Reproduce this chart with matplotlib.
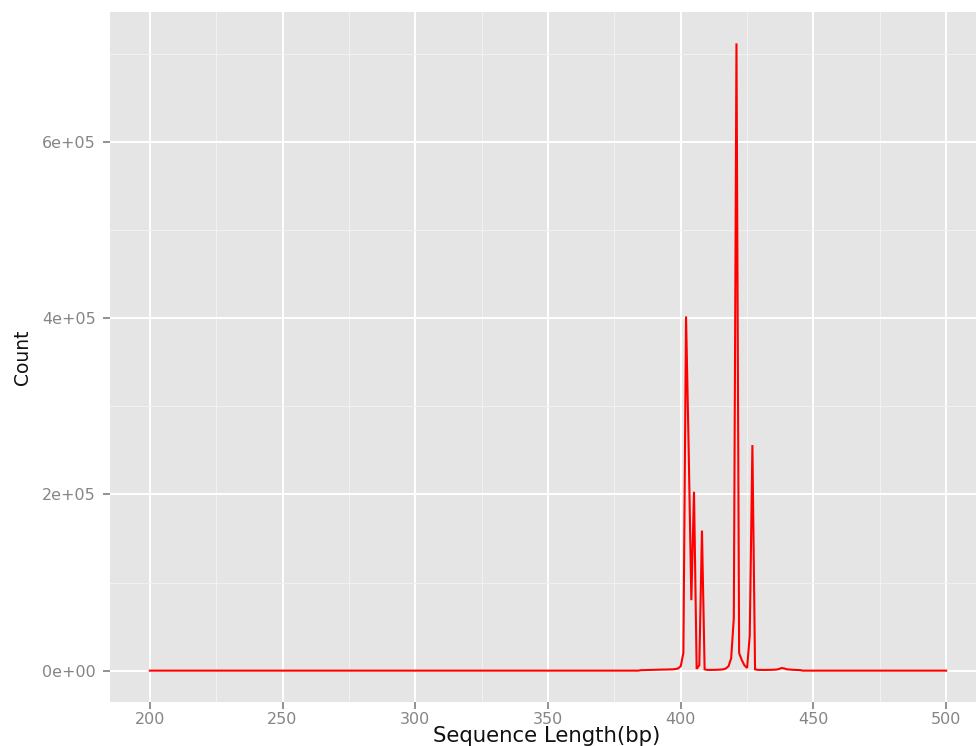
import matplotlib
matplotlib.use("Agg")
import matplotlib.pyplot as plt
from matplotlib.ticker import MultipleLocator, FixedLocator
import numpy as np

# ---- data ----
lengths = list(range(200, 501))
# non-zero counts (all other lengths ~0)
nonzero_lengths = [385, 386, 387, 388, 389, 390, 391, 392, 393, 394, 395, 396, 397, 398, 399,
                   400, 401, 402, 403, 404, 405, 406, 407, 408, 409,
                   410, 411, 412, 413, 414, 415, 416, 417, 418, 419,
                   420, 421, 422, 423, 424, 425, 426, 427, 428,
                   429, 430, 431, 432, 433, 434, 435, 436, 437, 438, 439, 440, 441, 442, 443, 444, 445]
nonzero_counts = [500, 600, 700, 800, 900, 1000, 1000, 1100, 1200, 1200, 1300, 1400, 1500, 1800, 2500,
                  5000, 20000, 402000, 250000, 80000, 203000, 2000, 6000, 159000, 1500,
                  800, 800, 800, 900, 1000, 1200, 1500, 2500, 5000, 14000,
                  60000, 712000, 20000, 12000, 6000, 3000, 40000, 256000, 1500,
                  900, 800, 800, 800, 800, 900, 1000, 1200, 1800, 3000, 2500, 1500, 1200, 1000, 800, 700, 600]

count_map = dict(zip(nonzero_lengths, nonzero_counts))
counts = [count_map.get(l, 0) for l in lengths]

x_ticks = [200, 250, 300, 350, 400, 450, 500]
y_ticks = [0, 200000, 400000, 600000]
y_tick_labels = ["0e+00", "2e+05", "4e+05", "6e+05"]
x_label = "Sequence Length(bp)"
y_label = "Count"

# ---- figure ----
W, H = 976, 746
fig = plt.figure(figsize=(W / 100, H / 100), dpi=100)
fig.patch.set_facecolor("white")

left_px, right_px, top_px, bottom_px = 110, 986, 12, 702
ax = fig.add_axes([left_px / W, (H - bottom_px) / H,
                   (right_px - left_px) / W, (bottom_px - top_px) / H])
ax.set_facecolor("#E5E5E5")

ax.plot(lengths, counts, color="#FF0000", lw=1.5, solid_joinstyle="miter", zorder=3)

xmin, xmax = 200, 500
ymax = max(counts)
xr = (xmax - xmin) * 0.05
yr = ymax * 0.05
ax.set_xlim(xmin - xr, xmax + xr)
ax.set_ylim(-yr, ymax + yr)

ax.xaxis.set_major_locator(FixedLocator(x_ticks))
ax.xaxis.set_minor_locator(MultipleLocator(25))
ax.yaxis.set_major_locator(FixedLocator(y_ticks))
ax.yaxis.set_minor_locator(MultipleLocator(100000))
ax.set_yticklabels(y_tick_labels)

ax.grid(which="major", color="white", lw=1.4, zorder=1)
ax.grid(which="minor", color="#F2F2F2", lw=0.7, zorder=0.5)
ax.set_axisbelow(True)

for s in ax.spines.values():
    s.set_visible(False)

ax.tick_params(which="major", direction="out", length=5, width=1.2,
               color="#7F7F7F", labelcolor="#858585", labelsize=11.5, pad=2)
ax.tick_params(axis="y", which="major", pad=5)
ax.tick_params(which="minor", length=0)
for lab in ax.get_xticklabels() + ax.get_yticklabels():
    lab.set_family("DejaVu Sans")

ax.set_xlabel(x_label, fontsize=15.3, color="#111111", labelpad=0, family="DejaVu Sans")
ax.xaxis.set_label_coords((547 - left_px) / (right_px - left_px), -(742 - bottom_px) / (bottom_px - top_px))
ax.xaxis.label.set_va("baseline")

fig.text(13 / W, 1 - 357 / H, y_label, rotation=90, fontsize=13.5, color="#111111",
         family="DejaVu Sans", ha="left", va="center")

fig.savefig("out.png", dpi=100)
